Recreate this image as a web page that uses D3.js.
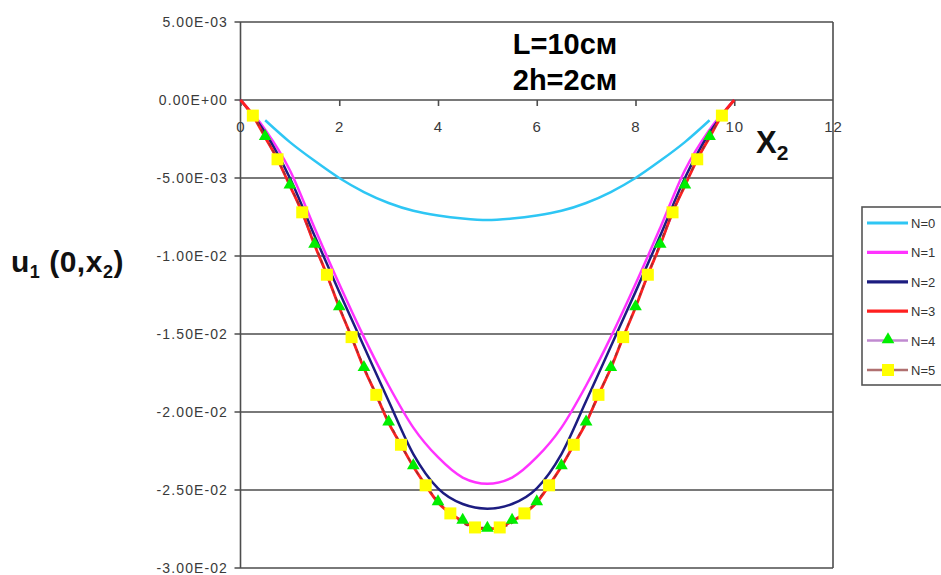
<!DOCTYPE html>
<html><head><meta charset="utf-8">
<script src="https://cdn.jsdelivr.net/npm/d3@7/dist/d3.min.js"></script>
<style>html,body{margin:0;padding:0;background:#fff;overflow:hidden}</style>
</head><body><svg id="c" width="941" height="575"></svg>
<script>
// ---- data ----
const yTicks = [0.005, 0, -0.005, -0.01, -0.015, -0.02, -0.025, -0.03];
const yTickLabels = ["5.00E-03","0.00E+00","-5.00E-03","-1.00E-02","-1.50E-02","-2.00E-02","-2.50E-02","-3.00E-02"];
const xTicks = [0, 2, 4, 6, 8, 10, 12];
const seriesNames = ["N=0","N=1","N=2","N=3","N=4","N=5"];

const xN0 = [0.5,1,1.5,2,2.5,3,3.5,4,4.5,5,5.5,6,6.5,7,7.5,8,8.5,9,9.5];
const yN0 = [-0.0013,-0.0027,-0.0039,-0.0050,-0.0059,-0.0066,-0.0071,-0.0074,-0.0076,-0.0077,-0.0076,-0.0074,-0.0071,-0.0066,-0.0059,-0.0050,-0.0039,-0.0027,-0.0013];

const xN12 = [0,0.5,1,1.5,2,2.5,3,3.5,4,4.5,5,5.5,6,6.5,7,7.5,8,8.5,9,9.5,10];
const yN1 = [0,-0.0019,-0.0045,-0.0082,-0.0118,-0.0152,-0.0183,-0.0210,-0.0229,-0.0242,-0.0246,-0.0242,-0.0229,-0.0210,-0.0183,-0.0152,-0.0118,-0.0082,-0.0045,-0.0019,0];
const yN2 = [0,-0.0021,-0.0050,-0.0087,-0.0123,-0.0158,-0.0193,-0.0227,-0.0249,-0.0259,-0.0262,-0.0259,-0.0249,-0.0227,-0.0193,-0.0158,-0.0123,-0.0087,-0.0050,-0.0021,0];

const xN3 = [0,0.25,0.5,0.75,1,1.25,1.5,1.75,2,2.25,2.5,2.75,3,3.25,3.5,3.75,4,4.25,4.5,4.75,5,5.25,5.5,5.75,6,6.25,6.5,6.75,7,7.25,7.5,7.75,8,8.25,8.5,8.75,9,9.25,9.5,9.75,10];
const yN3 = [0,-0.0010,-0.0024,-0.0038,-0.0055,-0.0072,-0.0093,-0.0112,-0.0133,-0.0152,-0.0172,-0.0189,-0.0207,-0.0221,-0.0235,-0.0247,-0.0258,-0.0265,-0.0270,-0.0274,-0.0275,-0.0274,-0.0270,-0.0265,-0.0258,-0.0247,-0.0235,-0.0221,-0.0207,-0.0189,-0.0172,-0.0152,-0.0133,-0.0112,-0.0093,-0.0072,-0.0055,-0.0038,-0.0024,-0.0010,0];

const xN4 = [0.5,1,1.5,2,2.5,3,3.5,4,4.5,5,5.5,6,6.5,7,7.5,8,8.5,9,9.5];
const yN4 = [-0.0024,-0.0055,-0.0093,-0.0133,-0.0172,-0.0207,-0.0235,-0.0258,-0.0270,-0.0275,-0.0270,-0.0258,-0.0235,-0.0207,-0.0172,-0.0133,-0.0093,-0.0055,-0.0024];

const xN5 = [0.25,0.75,1.25,1.75,2.25,2.75,3.25,3.75,4.25,4.75,5.25,5.75,6.25,6.75,7.25,7.75,8.25,8.75,9.25,9.75];
const yN5 = [-0.0010,-0.0038,-0.0072,-0.0112,-0.0152,-0.0189,-0.0221,-0.0247,-0.0265,-0.0274,-0.0274,-0.0265,-0.0247,-0.0221,-0.0189,-0.0152,-0.0112,-0.0072,-0.0038,-0.0010];

// ---- drawing ----
const svg = d3.select("#c");
const L = 240.5, R = 833, T = 22, B = 568;
const x = d3.scaleLinear().domain([0, 12]).range([L, R]);
const y = d3.scaleLinear().domain([-0.03, 0.005]).range([B, T]);
const gridCol = "#4d4d4d";
const txtCol = "#3a3a3a";
const FONT = "Liberation Sans, Arial, sans-serif";

// horizontal gridlines
svg.append("g").selectAll("line").data(yTicks).join("line")
  .attr("x1", L - 6).attr("x2", R).attr("y1", d => y(d)).attr("y2", d => y(d))
  .attr("stroke", gridCol).attr("stroke-width", 1.6);
// frame verticals
svg.append("line").attr("x1", L).attr("x2", L).attr("y1", T).attr("y2", B).attr("stroke", gridCol).attr("stroke-width", 1.6);
svg.append("line").attr("x1", R).attr("x2", R).attr("y1", T).attr("y2", B).attr("stroke", gridCol).attr("stroke-width", 1.6);

// y axis labels
svg.append("g").selectAll("text").data(yTicks).join("text")
  .attr("x", 228).attr("y", d => y(d) + 5)
  .attr("text-anchor", "end")
  .attr("font-family", FONT).attr("font-size", 14)
  .attr("letter-spacing", 1.1).attr("fill", txtCol)
  .text((d, i) => yTickLabels[i]);

// x axis at y=0 with ticks
const xAxis = d3.axisBottom(x).tickValues(xTicks).tickSize(6).tickPadding(15).tickFormat(d3.format("d"));
const gx = svg.append("g").attr("transform", `translate(0,${y(0)})`).call(xAxis);
gx.select(".domain").remove();
gx.selectAll(".tick line").attr("stroke", gridCol).attr("stroke-width", 1.6);
gx.selectAll(".tick").filter(d => d === 12).select("line").remove();
gx.selectAll(".tick text").attr("font-family", FONT).attr("font-size", 15)
  .attr("fill", txtCol).attr("letter-spacing", 1);

// series lines
const line = d3.line().x(d => x(d[0])).y(d => y(d[1])).curve(d3.curveMonotoneX);
const zip = (xs, ys) => xs.map((v, i) => [v, ys[i]]);
const colors = ["#2ec6f4", "#ff33ff", "#1c1c80", "#ff2020", "#9b4fc0", "#a03030"];
const lineData = [zip(xN0, yN0), zip(xN12, yN1), zip(xN12, yN2), zip(xN3, yN3), zip(xN4, yN4), zip(xN5, yN5)];
const widths = [2.5, 2.5, 2.5, 2.8, 1.5, 1.6];
const order = [0, 1, 2, 4, 3, 5];
order.forEach(i => {
  svg.append("path").attr("d", line(lineData[i])).attr("fill", "none")
    .attr("stroke", colors[i]).attr("stroke-width", widths[i])
    .attr("stroke-dasharray", i === 5 ? "4,4" : null);
});

// markers
const tri = d3.symbol().type(d3.symbolTriangle).size(70);
svg.append("g").selectAll("path").data(lineData[4]).join("path")
  .attr("d", tri).attr("transform", d => `translate(${x(d[0])},${y(d[1]) - 1})`)
  .attr("fill", "#00ee00");
svg.append("g").selectAll("rect").data(lineData[5]).join("rect")
  .attr("x", d => x(d[0]) - 6).attr("y", d => y(d[1]) - 6).attr("width", 12).attr("height", 12)
  .attr("fill", "#ffff00");

// title
const title = svg.append("text").attr("text-anchor", "middle")
  .attr("font-family", FONT).attr("font-weight", "bold")
  .attr("font-size", 29).attr("fill", "#000");
title.append("tspan").attr("x", 565).attr("y", 54).text("L=10см");
title.append("tspan").attr("x", 565).attr("y", 90).text("2h=2см");

// x axis title
const xt = svg.append("text").attr("x", 756).attr("y", 153)
  .attr("font-family", FONT).attr("font-weight", "bold")
  .attr("font-size", 31).attr("fill", "#111");
xt.append("tspan").text("X");
xt.append("tspan").attr("font-size", 21).attr("dy", 7).text("2");

// y axis title
const yt = svg.append("text").attr("x", 11).attr("y", 272)
  .attr("font-family", FONT).attr("font-weight", "bold")
  .attr("font-size", 30).attr("fill", "#111").attr("letter-spacing", 0.5);
yt.append("tspan").text("u");
yt.append("tspan").attr("font-size", 18).attr("dy", 6).text("1");
yt.append("tspan").attr("dy", -6).text(" (0,x");
yt.append("tspan").attr("font-size", 18).attr("dy", 6).text("2");
yt.append("tspan").attr("dy", -6).text(")");

// legend
const lg = svg.append("g");
lg.append("rect").attr("x", 862).attr("y", 207).attr("width", 120).attr("height", 178)
  .attr("fill", "#fff").attr("stroke", "#555").attr("stroke-width", 1.6);
const legY = d3.scalePoint().domain(seriesNames).range([223, 370]);
seriesNames.forEach((n, i) => {
  const yy = legY(n);
  lg.append("line").attr("x1", 867).attr("x2", 908).attr("y1", yy).attr("y2", yy)
    .attr("stroke", i === 4 ? "#c08ad0" : (i === 5 ? "#b07070" : colors[i])).attr("stroke-width", i >= 4 ? 2.5 : 3.2);
  if (i === 4) lg.append("path").attr("d", tri).attr("transform", `translate(888,${yy - 1})`).attr("fill", "#00ee00");
  if (i === 5) lg.append("rect").attr("x", 882).attr("y", yy - 6).attr("width", 12).attr("height", 12).attr("fill", "#ffff00");
  lg.append("text").attr("x", 911).attr("y", yy + 5)
    .attr("font-family", FONT).attr("font-size", 13)
    .attr("fill", "#333").text(n);
});
</script>
</body></html>
